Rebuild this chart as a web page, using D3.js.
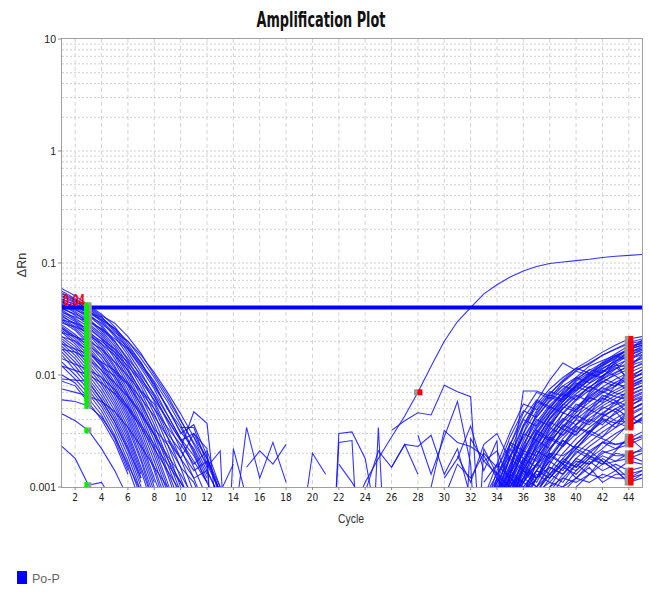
<!DOCTYPE html>
<html><head><meta charset="utf-8">
<script src="https://cdn.jsdelivr.net/npm/d3@7"></script>
<style>body{margin:0;background:#fff}</style>
</head><body><div id="chart"></div>
<script>
// ---- data ----
const title = "Amplification Plot";
const xLabel = "Cycle";
const yLabel = "ΔRn";
const legendLabel = "Po-P";
const threshold = 0.04;
const xTicks = [2,4,6,8,10,12,14,16,18,20,22,24,26,28,30,32,34,36,38,40,42,44];
const yTicks = [0.001, 0.01, 0.1, 1, 10];
const yTickLabels = ["0.001","0.01","0.1","1","10"];
const baselineStartCycle = 3;
const baselineEndCycle = 44;
const ampBaselineEndCycle = 28;

// early-decaying wells, values from cycle 1
const leftStart = 1;
const leftCurves = [
 [0.059,0.051,0.042,0.035,0.027,0.019,0.0128,0.0085,0.0050,0.0034,0.0020,0.0011,0.0006],
 [0.056,0.048,0.040,0.033,0.025,0.017,0.0115,0.0075,0.0044,0.0027,0.0015,0.0008],
 [0.053,0.046,0.038,0.031,0.023,0.016,0.0105,0.0066,0.0038,0.0022,0.0012,0.0006],
 [0.050,0.044,0.037,0.030,0.022,0.015,0.0095,0.0058,0.0033,0.0018,0.0009],
 [0.048,0.042,0.035,0.028,0.020,0.0135,0.0085,0.0050,0.0028,0.0015,0.0007],
 [0.046,0.040,0.034,0.027,0.019,0.0125,0.0078,0.0045,0.0024,0.0012,0.0006],
 [0.045,0.039,0.032,0.025,0.018,0.0115,0.0070,0.0040,0.0021,0.0010,0.0005],
 [0.043,0.037,0.031,0.024,0.017,0.0108,0.0064,0.0036,0.0018,0.0009],
 [0.042,0.036,0.029,0.023,0.016,0.0100,0.0058,0.0032,0.0016,0.0008],
 [0.040,0.034,0.028,0.022,0.015,0.0093,0.0053,0.0029,0.0014,0.0007],
 [0.038,0.032,0.027,0.021,0.014,0.0086,0.0049,0.0026,0.0013,0.0006],
 [0.037,0.031,0.025,0.019,0.013,0.0080,0.0045,0.0023,0.0011,0.0005],
 [0.035,0.030,0.024,0.018,0.012,0.0074,0.0041,0.0021,0.0010],
 [0.034,0.028,0.023,0.017,0.0115,0.0068,0.0037,0.0019,0.0009],
 [0.032,0.027,0.0215,0.016,0.0108,0.0063,0.0034,0.0017,0.0008],
 [0.031,0.026,0.020,0.015,0.0100,0.0058,0.0031,0.0015,0.0007],
 [0.030,0.025,0.019,0.014,0.0093,0.0054,0.0028,0.0014,0.0006],
 [0.028,0.023,0.018,0.013,0.0086,0.0050,0.0026,0.0012,0.0006],
 [0.027,0.022,0.017,0.0125,0.0080,0.0046,0.0024,0.0011],
 [0.026,0.021,0.016,0.0118,0.0075,0.0043,0.0022,0.0010],
 [0.025,0.020,0.015,0.011,0.0070,0.0040,0.0020,0.0009],
 [0.024,0.019,0.014,0.0102,0.0065,0.0037,0.0018,0.0008],
 [0.022,0.018,0.0132,0.0095,0.0060,0.0034,0.0017,0.0007],
 [0.021,0.017,0.0124,0.0088,0.0056,0.0031,0.0015,0.0007],
 [0.020,0.016,0.0116,0.0082,0.0052,0.0029,0.0014,0.0006],
 [0.019,0.015,0.0108,0.0076,0.0048,0.0027,0.0013],
 [0.018,0.014,0.0100,0.0070,0.0044,0.0025,0.0012],
 [0.017,0.013,0.0093,0.0065,0.0041,0.0023,0.0011],
 [0.016,0.012,0.0086,0.0060,0.0038,0.0021,0.0010],
 [0.015,0.011,0.0080,0.0056,0.0035,0.0019,0.0009],
 [0.013,0.010,0.0074,0.0052,0.0032,0.0017,0.0008],
 [0.012,0.0092,0.0068,0.0048,0.0029,0.0015,0.0007],
 [0.010,0.0085,0.0062,0.0044,0.0027,0.0014],
 [0.0088,0.0080,0.0057,0.0040,0.0025,0.0013],
 [0.0092,0.0090,0.0088,0.0060,0.0038,0.0022,0.0012],
 [0.0060,0.0058,0.0053,0.0042,0.0028,0.0016,0.0009],
 [0.0045,0.0039,0.0032,0.0022,0.0014,0.0008],
 [0.0023,0.0018,0.00104,0.0011,0.0007],
 [0.044,0.041,0.036,0.033,0.024,0.020,0.014,0.0095,0.0062,0.0039,0.0025,0.0016,0.0009],
 [0.036,0.033,0.030,0.026,0.021,0.017,0.012,0.0082,0.0050,0.0031,0.0022,0.0013],
 [0.029,0.027,0.024,0.020,0.016,0.012,0.0088,0.0060,0.0040,0.0026,0.0030,0.0018,0.0009],
 [0.024,0.022,0.020,0.017,0.013,0.0098,0.0070,0.0050,0.0034,0.0024,0.0016,0.0021,0.0010],
 [0.051,0.045,0.039,0.032,0.026,0.020,0.015,0.0105,0.0070,0.0045,0.0028,0.0018,0.0010],
 [0.033,0.029,0.026,0.021,0.017,0.013,0.0092,0.0064,0.0040,0.0026,0.0017,0.0011],
 [0.019,0.017,0.0155,0.013,0.011,0.0085,0.0062,0.0043,0.0028,0.0018,0.0012,0.0014,0.0008],
 [0.0075,0.0070,0.0065,0.0058,0.0047,0.0034,0.0023,0.0015,0.0010],
 [0.0120,0.0110,0.0100,0.0085,0.0068,0.0050,0.0034,0.0022,0.0014,0.0009],
 [0.042,0.038,0.034,0.029,0.023,0.0175,0.0125,0.0088,0.0058,0.0036,0.0021,0.0012],
 [0.047,0.043,0.036,0.031,0.026,0.018,0.013,0.0078,0.0052,0.0030,0.0036,0.0019,0.0008],
 [0.031,0.029,0.023,0.019,0.015,0.0110,0.0072,0.0055,0.0030,0.0021,0.0014,0.0017,0.0009],
 [0.026,0.022,0.0185,0.0150,0.0105,0.0082,0.0055,0.0033,0.0024,0.0015,0.0011,0.0006],
 [0.022,0.020,0.0165,0.0120,0.0098,0.0066,0.0046,0.0030,0.0019,0.0013,0.0008],
 [0.039,0.035,0.0305,0.0255,0.0200,0.0140,0.0100,0.0068,0.0044,0.0027,0.0019,0.0011],
 [0.017,0.016,0.0140,0.0110,0.0085,0.0064,0.0044,0.0029,0.0018,0.0011,0.0007],
 [0.054,0.047,0.041,0.034,0.029,0.022,0.0155,0.0100,0.0066,0.0040,0.0024,0.0014,0.0008],
 [0.014,0.0125,0.0112,0.0095,0.0074,0.0052,0.0036,0.0024,0.0016,0.0011,0.0007]
];

// late-rising wells, values from cycle 33
const rightStart = 33;
const rightCurves = [
 [0.0006,0.0009,0.0018,0.0035,0.0055,0.0075,0.0095,0.0115,0.0135,0.016,0.0185,0.021,0.022],
 [0.0005,0.0008,0.0015,0.0030,0.0048,0.0068,0.0088,0.0110,0.0128,0.015,0.0172,0.0195,0.021],
 [0.0004,0.0007,0.0014,0.0030,0.0058,0.0090,0.0128,0.0110,0.0125,0.0150,0.0170,0.0190,0.0200],
 [0.0003,0.0006,0.0012,0.0072,0.0072,0.0065,0.0080,0.0095,0.0120,0.0135,0.0150,0.0170,0.0185],
 [0.0005,0.0009,0.0016,0.0028,0.0042,0.0058,0.0075,0.0092,0.0110,0.0128,0.0148,0.0168,0.0185],
 [0.0004,0.0007,0.0013,0.0024,0.0038,0.0054,0.0070,0.0088,0.0105,0.0122,0.0140,0.0160,0.0175],
 [0.0003,0.0006,0.0011,0.0021,0.0034,0.0048,0.0064,0.0080,0.0098,0.0115,0.0132,0.0150,0.0165],
 [0.0003,0.0005,0.0009,0.0018,0.0030,0.0044,0.0058,0.0074,0.0090,0.0106,0.0122,0.0138,0.0152],
 [0.0004,0.0006,0.0010,0.0016,0.0027,0.0040,0.0054,0.0068,0.0084,0.0099,0.0114,0.0128,0.0140],
 [0.0003,0.0005,0.0008,0.0014,0.0024,0.0036,0.0050,0.0064,0.0078,0.0092,0.0106,0.0120,0.0132],
 [0.0002,0.0004,0.0007,0.0012,0.0021,0.0032,0.0045,0.0059,0.0073,0.0087,0.0100,0.0113,0.0125],
 [0.0003,0.0005,0.0009,0.0015,0.0022,0.0030,0.0040,0.0052,0.0065,0.0078,0.0092,0.0105,0.0118],
 [0.0002,0.0004,0.0006,0.0011,0.0019,0.0028,0.0038,0.0049,0.0061,0.0073,0.0086,0.0098,0.0110],
 [0.0002,0.0003,0.0005,0.0009,0.0016,0.0025,0.0035,0.0046,0.0057,0.0069,0.0080,0.0091,0.0102],
 [0.0003,0.0004,0.0007,0.0012,0.0018,0.0026,0.0034,0.0043,0.0053,0.0063,0.0074,0.0085,0.0095],
 [0.0002,0.0003,0.0005,0.0008,0.0014,0.0022,0.0031,0.0040,0.0050,0.0060,0.0070,0.0080,0.0090],
 [0.0002,0.0003,0.0004,0.0007,0.0012,0.0019,0.0027,0.0036,0.0046,0.0056,0.0066,0.0076,0.0085],
 [0.0003,0.0005,0.0008,0.0011,0.0016,0.0022,0.0029,0.0036,0.0044,0.0053,0.0062,0.0071,0.0080],
 [0.0002,0.0003,0.0004,0.0006,0.0010,0.0016,0.0024,0.0032,0.0041,0.0050,0.0058,0.0067,0.0075],
 [0.0002,0.0003,0.0005,0.0008,0.0012,0.0017,0.0023,0.0030,0.0038,0.0046,0.0054,0.0062,0.0070],
 [0.0001,0.0002,0.0004,0.0006,0.0009,0.0014,0.0020,0.0027,0.0034,0.0042,0.0050,0.0058,0.0065],
 [0.0002,0.0003,0.0004,0.0006,0.0009,0.0013,0.0018,0.0024,0.0031,0.0038,0.0045,0.0053,0.0060],
 [0.0001,0.0002,0.0003,0.0005,0.0008,0.0012,0.0017,0.0022,0.0028,0.0034,0.0041,0.0048,0.0055],
 [0.0002,0.0003,0.0004,0.0005,0.0007,0.0010,0.0015,0.0020,0.0025,0.0031,0.0037,0.0043,0.0050],
 [0.0001,0.0002,0.0003,0.0004,0.0006,0.0009,0.0013,0.0018,0.0023,0.0028,0.0034,0.0040,0.0045],
 [0.0001,0.0002,0.0003,0.0004,0.0005,0.0008,0.0012,0.0016,0.0020,0.0025,0.0030,0.0035,0.0040],
 [0.0001,0.0002,0.0002,0.0003,0.0005,0.0007,0.0010,0.0014,0.0018,0.0022,0.0028,0.0036,0.0039],
 [0.0001,0.0001,0.0002,0.0003,0.0004,0.0006,0.0009,0.0012,0.0016,0.0020,0.0022,0.0024,0.0027],
 [0.0001,0.0001,0.0002,0.0003,0.0004,0.0005,0.0007,0.0010,0.0013,0.0016,0.0017,0.0018,0.0020],
 [0.0005,0.0012,0.0008,0.0016,0.0032,0.0027,0.0046,0.0041,0.0063,0.0057,0.0081,0.0096,0.0102],
 [0.0009,0.0006,0.0013,0.0021,0.0019,0.0034,0.0052,0.0047,0.0070,0.0088,0.0079,0.0110,0.0128],
 [0.0003,0.0009,0.0024,0.0041,0.0060,0.0052,0.0068,0.0085,0.0076,0.0098,0.0122,0.0118,0.0145],
 [0.0002,0.0005,0.0010,0.0022,0.0046,0.0063,0.0058,0.0079,0.0101,0.0094,0.0132,0.0158,0.0171],
 [0.0006,0.0010,0.0007,0.0012,0.0025,0.0038,0.0033,0.0050,0.0067,0.0085,0.0104,0.0120,0.0150],
 [0.0004,0.0008,0.0019,0.0016,0.0029,0.0044,0.0062,0.0079,0.0071,0.0092,0.0113,0.0142,0.0160],
 [0.0003,0.0007,0.0015,0.0034,0.0052,0.0071,0.0065,0.0090,0.0112,0.0104,0.0140,0.0176,0.0192],
 [0.0002,0.0006,0.0011,0.0018,0.0015,0.0024,0.0036,0.0031,0.0046,0.0062,0.0055,0.0075,0.0088],
 [0.0008,0.0013,0.0010,0.0014,0.0011,0.0018,0.0026,0.0022,0.0030,0.0040,0.0034,0.0048,0.0056],
 [0.0011,0.0016,0.0012,0.0009,0.0014,0.0020,0.0016,0.0024,0.0032,0.0028,0.0038,0.0034,0.0042],
 [0.0003,0.0006,0.0010,0.0008,0.0012,0.0017,0.0014,0.0021,0.0018,0.0025,0.0022,0.0027,0.0031],
 [0.0002,0.0004,0.0007,0.0011,0.0009,0.0013,0.0011,0.0016,0.0013,0.0018,0.0015,0.0012,0.0014],
 [0.0005,0.0009,0.0014,0.0022,0.0033,0.0047,0.0064,0.0082,0.0100,0.0123,0.0146,0.0170,0.0205],
 [0.0004,0.0007,0.0012,0.0020,0.0031,0.0045,0.0061,0.0078,0.0097,0.0119,0.0143,0.0168,0.0198],
 [0.0003,0.0006,0.0010,0.0017,0.0027,0.0041,0.0058,0.0076,0.0094,0.0113,0.0135,0.0158,0.0180],
 [0.0002,0.0004,0.0008,0.0014,0.0023,0.0037,0.0054,0.0072,0.0090,0.0108,0.0127,0.0150,0.0170],
 [0.0002,0.0003,0.0005,0.0007,0.0009,0.0011,0.0010,0.0012,0.0011,0.0013,0.0012,0.0012,0.0013],
 [0.0003,0.0004,0.0006,0.0009,0.0012,0.0015,0.0013,0.0017,0.0016,0.0019,0.0017,0.0020,0.0021],
 [0.0004,0.0006,0.0009,0.0012,0.0016,0.0020,0.0019,0.0023,0.0021,0.0025,0.0024,0.0026,0.0028],
 [0.0001,0.0002,0.0004,0.0006,0.0008,0.0010,0.0012,0.0011,0.0013,0.0012,0.0014,0.0011,0.0012],
 [0.0005,0.0008,0.0012,0.0010,0.0014,0.0012,0.0016,0.0014,0.0018,0.0016,0.0020,0.0019,0.0017],
 [0.0004,0.0009,0.0007,0.0015,0.0026,0.0022,0.0031,0.0044,0.0038,0.0052,0.0047,0.0035,0.0041],
 [0.0006,0.0011,0.0018,0.0014,0.0023,0.0034,0.0029,0.0040,0.0036,0.0045,0.0039,0.0038,0.0046],
 [0.0003,0.0005,0.0012,0.0020,0.0017,0.0028,0.0024,0.0035,0.0031,0.0043,0.0050,0.0042,0.0037],
 [0.0002,0.0007,0.0013,0.0011,0.0019,0.0030,0.0041,0.0036,0.0049,0.0044,0.0058,0.0045,0.0051],
 [0.0005,0.0010,0.0008,0.0013,0.0021,0.0018,0.0026,0.0022,0.0030,0.0027,0.0024,0.0025,0.0029],
 [0.0007,0.0012,0.0009,0.0015,0.0012,0.0019,0.0016,0.0022,0.0019,0.0016,0.0021,0.0028,0.0022],
 [0.0004,0.0008,0.0014,0.0011,0.0016,0.0013,0.0018,0.0015,0.0021,0.0017,0.0014,0.0017,0.0016],
 [0.0003,0.0006,0.0009,0.0014,0.0010,0.0013,0.0016,0.0012,0.0015,0.0011,0.0013,0.0013,0.0014],
 [0.0002,0.0005,0.0011,0.0024,0.0040,0.0035,0.0050,0.0066,0.0058,0.0071,0.0064,0.0060,0.0068],
 [0.0003,0.0008,0.0016,0.0030,0.0026,0.0041,0.0055,0.0049,0.0063,0.0077,0.0069,0.0065,0.0074],
 [0.0005,0.0012,0.0025,0.0021,0.0036,0.0052,0.0046,0.0061,0.0079,0.0070,0.0086,0.0072,0.0080],
 [0.0004,0.0010,0.0021,0.0040,0.0035,0.0051,0.0068,0.0060,0.0078,0.0094,0.0083,0.0078,0.0090],
 [0.0006,0.0014,0.0028,0.0048,0.0042,0.0060,0.0080,0.0072,0.0092,0.0110,0.0098,0.0082,0.0095],
 [0.0003,0.0009,0.0019,0.0036,0.0058,0.0050,0.0072,0.0095,0.0085,0.0106,0.0128,0.0088,0.0105],
 [0.0002,0.0006,0.0013,0.0026,0.0044,0.0066,0.0060,0.0082,0.0104,0.0096,0.0118,0.0093,0.0112],
 [0.0004,0.0011,0.0024,0.0046,0.0070,0.0062,0.0086,0.0108,0.0100,0.0125,0.0148,0.0135,0.0160],
 [0.0008,0.0016,0.0031,0.0055,0.0049,0.0068,0.0090,0.0115,0.0104,0.0130,0.0155,0.0182,0.0190],
 [0.0002,0.0004,0.0009,0.0017,0.0030,0.0026,0.0039,0.0055,0.0049,0.0066,0.0059,0.0052,0.0062],
 [0.0001,0.0003,0.0007,0.0014,0.0012,0.0021,0.0033,0.0029,0.0040,0.0036,0.0047,0.0057,0.0063],
 [0.0003,0.0005,0.0011,0.0009,0.0016,0.0027,0.0023,0.0034,0.0030,0.0041,0.0037,0.0048,0.0055],
 [0.0002,0.0004,0.0006,0.0009,0.0013,0.0011,0.0015,0.0013,0.0017,0.0014,0.0016,0.0014,0.0015],
 [0.0003,0.0005,0.0008,0.0012,0.0010,0.0015,0.0013,0.0018,0.0016,0.0021,0.0019,0.0019,0.0022],
 [0.0002,0.0004,0.0007,0.0010,0.0014,0.0012,0.0017,0.0015,0.0019,0.0017,0.0014,0.0011,0.0013]
];

// the amplifying well, values from cycle 23
const ampStart = 23;
const ampCurve = [0.0006,0.0011,0.0018,0.0028,0.0043,0.0070,0.012,0.020,0.030,0.040,0.053,0.064,0.075,0.085,0.093,0.099,0.102,0.105,0.108,0.112,0.115,0.117,0.119];

// scattered noise traces: first entry = start cycle, then values
const noiseTraces = [
 [9, 0.0026,0.0018,0.0030,0.0022,0.00001],
 [10, 0.0022,0.0047,0.0037,0.0003],
 [10, 0.0034,0.0034,0.0016,0.00005],
 [11, 0.0028,0.0015,0.0021,0.00001],
 [12, 0.0018,0.0009,0.0016],
 [13, 0.00001,0.0022,0.0008],
 [14, 0.0004,0.0034,0.0012,0.0025,0.0011],
 [15, 0.0015,0.0021,0.0016,0.0024],
 [19, 0.0003,0.0020,0.0013],
 [21, 0.00001,0.0030,0.0031,0.0018,0.0004],
 [21, 0.00001,0.0025,0.0026,0.00002],
 [22, 0.0016,0.0011,0.0007],
 [24, 0.00001,0.0034,0.00002],
 [24, 0.0009,0.0021,0.0015,0.0024,0.0013],
 [26, 0.0032,0.0039,0.0046,0.0044,0.0081,0.0071,0.0064,0.0001],
 [26, 0.0015,0.0024,0.0023,0.0029,0.0013,0.0022,0.0008],
 [28, 0.0029,0.0013,0.0028,0.0058,0.0016,0.00002],
 [29, 0.0010,0.0032,0.0025,0.0023,0.0019,0.0012],
 [30, 0.0012,0.0018,0.0035,0.0014,0.0026,0.00002],
 [31, 0.00002,0.0027,0.0017,0.0021,0.0011],
 [31, 0.0019,0.0011,0.0024,0.0030,0.0017],
 [32, 0.00003,0.0022,0.0013,0.0019,0.0028],
 [30, 0.0008,0.0016,0.0012,0.0020,0.0015,0.0024,0.0018],
 [33, 0.0017,0.0013,0.0022,0.0016,0.0012,0.0020]
];

// ---- chart ----
const W = 649, H = 592;
const L = 62, R = 642, T = 39, B = 487;
const svg = d3.select("#chart").append("svg").attr("width", W).attr("height", H)
  .style("font-family", "'Liberation Sans', Arial, sans-serif");

const x = d3.scaleLinear().domain([1, 45]).range([L, R]);
const y = d3.scaleLog().domain([0.001, 10]).range([B, T]);

// grid
const minorY = [];
[0.001,0.01,0.1,1].forEach(d => { for (let k=1;k<10;k++) minorY.push(d*k); });
svg.append("g").selectAll("line").data(minorY.filter(v => v > 0.001)).join("line")
  .attr("x1", L).attr("x2", R).attr("y1", d => y(d)).attr("y2", d => y(d))
  .attr("stroke", "#cfcfcf").attr("stroke-dasharray", "2,2").attr("stroke-width", 1);
svg.append("g").selectAll("line").data(xTicks).join("line")
  .attr("x1", d => x(d)).attr("x2", d => x(d)).attr("y1", T).attr("y2", B)
  .attr("stroke", "#d4d4d4").attr("stroke-dasharray", "4,3").attr("stroke-width", 1);

svg.append("clipPath").attr("id", "clip").append("rect")
  .attr("x", L).attr("y", T).attr("width", R - L).attr("height", B - T);

const line = d3.line().x(d => x(d.c)).y(d => y(Math.max(d.v, 1e-6)));
const toPts = (vals, start) => vals.map((v, i) => ({c: start + i, v}));

const plot = svg.append("g").attr("clip-path", "url(#clip)");
const allCurves = []
  .concat(leftCurves.map(v => toPts(v, leftStart)))
  .concat(rightCurves.map(v => toPts(v, rightStart)))
  .concat(noiseTraces.map(t => toPts(t.slice(1), t[0])))
  .concat([toPts(ampCurve, ampStart)]);
plot.selectAll("path.curve").data(allCurves).join("path").attr("class", "curve")
  .attr("d", line).attr("fill", "none").attr("stroke", "#1010ff")
  .attr("stroke-width", 1.1).attr("stroke-opacity", 0.85);

// threshold
svg.append("line").attr("x1", L).attr("x2", R).attr("y1", y(threshold)).attr("y2", y(threshold))
  .attr("stroke", "#0000ff").attr("stroke-width", 4);

// baseline markers
const mk = svg.append("g");
const startVals = leftCurves.map(v => v[baselineStartCycle - leftStart]).filter(v => v !== undefined);
mk.selectAll("rect.gs").data(startVals).join("rect").attr("class","gs")
  .attr("x", x(baselineStartCycle)).attr("y", d => y(d) - 3).attr("width", 3).attr("height", 6).attr("fill", "#9a9a9a");
mk.selectAll("rect.g").data(startVals).join("rect").attr("class","g")
  .attr("x", x(baselineStartCycle) - 4).attr("y", d => y(d) - 3).attr("width", 4).attr("height", 6).attr("fill", "#00ee00");
const endVals = rightCurves.map(v => v[baselineEndCycle - rightStart]);
endVals.push(ampCurve[ampBaselineEndCycle - ampStart]);
const endCycles = rightCurves.map(() => baselineEndCycle).concat([ampBaselineEndCycle]);
const endPts = endVals.map((v, i) => ({c: endCycles[i], v}));
mk.selectAll("rect.rs").data(endPts).join("rect").attr("class","rs")
  .attr("x", d => x(d.c) - 4).attr("y", d => y(d.v) - 3).attr("width", 3.5).attr("height", 6).attr("fill", "#9a9a9a");
mk.selectAll("rect.r").data(endPts).join("rect").attr("class","r")
  .attr("x", d => x(d.c) - 0.5).attr("y", d => y(d.v) - 3).attr("width", 5).attr("height", 6).attr("fill", "#ff0000");

// threshold label
svg.append("text").attr("x", L + 1).attr("y", y(threshold) - 2).text(String(threshold))
  .attr("fill", "#ff0000").attr("font-size", 15).attr("font-weight", "bold")
  .attr("font-family", "'DejaVu Sans Condensed', sans-serif")
  .attr("textLength", 22).attr("lengthAdjust", "spacingAndGlyphs");

// frame
svg.append("rect").attr("x", L - 0.5).attr("y", T - 0.5).attr("width", R - L + 1).attr("height", B - T + 1)
  .attr("fill", "none").attr("stroke", "#a0a0a0").attr("stroke-width", 1);

// axes ticks
svg.append("g").selectAll("line").data(xTicks).join("line")
  .attr("x1", d => x(d)).attr("x2", d => x(d)).attr("y1", B).attr("y2", B + 3).attr("stroke", "#888");
svg.append("g").selectAll("text").data(xTicks).join("text")
  .attr("x", d => x(d)).attr("y", B + 14).attr("text-anchor", "middle")
  .attr("font-size", 10).attr("font-family", "'DejaVu Sans Condensed', sans-serif").attr("fill", "#222")
  .text(d => d);
svg.append("g").selectAll("line").data(yTicks).join("line")
  .attr("x1", L - 4).attr("x2", L).attr("y1", d => y(d)).attr("y2", d => y(d)).attr("stroke", "#888");
svg.append("g").selectAll("text").data(yTicks).join("text")
  .attr("x", L - 6).attr("y", d => y(d) + 4).attr("text-anchor", "end")
  .attr("font-size", 10.5).attr("fill", "#222").text((d, i) => yTickLabels[i]);

// titles
svg.append("text").attr("x", 321).attr("y", 27).attr("text-anchor", "middle")
  .attr("font-size", 21).attr("font-weight", "bold").attr("font-family", "'DejaVu Sans Condensed', sans-serif")
  .attr("textLength", 129).attr("lengthAdjust", "spacingAndGlyphs").attr("fill", "#111").text(title);
svg.append("text").attr("x", 338).attr("y", 523).attr("font-size", 12.5).attr("fill", "#333")
  .attr("textLength", 26).attr("lengthAdjust", "spacingAndGlyphs").text(xLabel);
svg.append("text").attr("transform", "translate(26,265) rotate(-90)").attr("text-anchor", "middle")
  .attr("font-size", 12.5).attr("fill", "#333").text(yLabel);

// legend
svg.append("rect").attr("x", 17).attr("y", 571).attr("width", 10).attr("height", 13).attr("fill", "#0000ff");
svg.append("text").attr("x", 32).attr("y", 583).attr("font-size", 12.5).attr("fill", "#666").text(legendLabel);
</script></body></html>
